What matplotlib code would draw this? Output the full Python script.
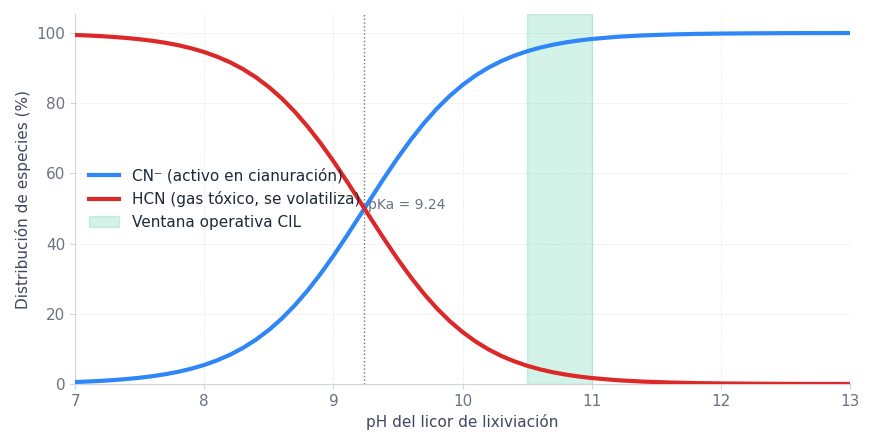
import numpy as np
import matplotlib
matplotlib.use("Agg")
import matplotlib.pyplot as plt

# valeurs (pas fin pour suivre la courbure)
ph = [7.0, 7.1, 7.2, 7.3, 7.4, 7.5, 7.6, 7.7, 7.8, 7.9,
      8.0, 8.1, 8.2, 8.3, 8.4, 8.5, 8.6, 8.7, 8.8, 8.9,
      9.0, 9.1, 9.2, 9.3, 9.4, 9.5, 9.6, 9.7, 9.8, 9.9,
      10.0, 10.1, 10.2, 10.3, 10.4, 10.5, 10.6, 10.7, 10.8, 10.9,
      11.0, 11.2, 11.4, 11.6, 11.8, 12.0, 12.25, 12.5, 12.75, 13.0]
cn = [0.57, 0.72, 0.90, 1.14, 1.43, 1.79, 2.24, 2.80, 3.50, 4.37,
      5.44, 6.76, 8.36, 10.30, 12.63, 15.40, 18.64, 22.39, 26.64, 31.37,
      36.52, 42.02, 47.70, 53.45, 59.11, 64.54, 69.61, 74.26, 78.41, 82.05,
      85.19, 87.87, 90.12, 91.99, 93.53, 94.79, 95.82, 96.65, 97.32, 97.86,
      98.29, 98.92, 99.31, 99.56, 99.73, 99.83, 99.90, 99.95, 99.97, 99.98]
hcn = [99.43, 99.28, 99.10, 98.86, 98.57, 98.21, 97.76, 97.20, 96.50, 95.63,
       94.56, 93.24, 91.64, 89.70, 87.37, 84.60, 81.36, 77.61, 73.36, 68.63,
       63.48, 57.98, 52.30, 46.55, 40.89, 35.46, 30.39, 25.74, 21.59, 17.95,
       14.81, 12.13, 9.88, 8.01, 6.47, 5.21, 4.18, 3.35, 2.68, 2.14,
       1.71, 1.08, 0.69, 0.44, 0.27, 0.17, 0.10, 0.05, 0.03, 0.02]
pka = 9.24
ventana = (10.5, 11.0)

fig, ax = plt.subplots(figsize=(8.74, 4.45), dpi=100)
fig.subplots_adjust(left=0.086, right=0.9725, top=0.9685, bottom=0.137)

ax.axvspan(ventana[0], ventana[1], color='#10b981', alpha=0.18, lw=1,
           label='Ventana operativa CIL', zorder=1)
ax.plot(ph, cn, color='#2e86f7', lw=3, label='CN⁻ (activo en cianuración)',
        solid_joinstyle='round', zorder=3)
ax.plot(ph, hcn, color='#dc2828', lw=3, label='HCN (gas tóxico, se volatiliza)',
        solid_joinstyle='round', zorder=3)
ax.axvline(pka, color='#6b7280', lw=1, ls=':', zorder=2)
ax.text(pka + 0.03, 51, 'pKa = 9.24', color='#6b7280', fontsize=10, va='center', ha='left')

ax.set_xlim(7, 13)
ax.set_ylim(0, 105.4)
ax.set_xticks([7, 8, 9, 10, 11, 12, 13])
ax.set_yticks([0, 20, 40, 60, 80, 100])
ax.set_xlabel('pH del licor de lixiviación', fontsize=11, color='#3f4660')
ax.set_ylabel('Distribución de especies (%)', fontsize=11, color='#3f4660')
ax.tick_params(colors='#d1d5db', labelcolor='#6b7280', labelsize=11)
ax.grid(True, ls='--', color='#ececec', lw=0.6)
ax.set_axisbelow(True)
for s in ['top', 'right']:
    ax.spines[s].set_visible(False)
for s in ['left', 'bottom']:
    ax.spines[s].set_color('#d1d5db')

h, l = ax.get_legend_handles_labels()
order = [1, 2, 0]
leg = ax.legend([h[i] for i in order], [l[i] for i in order], loc='center left',
                frameon=False, fontsize=11)
for t in leg.get_texts():
    t.set_color('#1f2937')

plt.savefig('out.png', dpi=100)
